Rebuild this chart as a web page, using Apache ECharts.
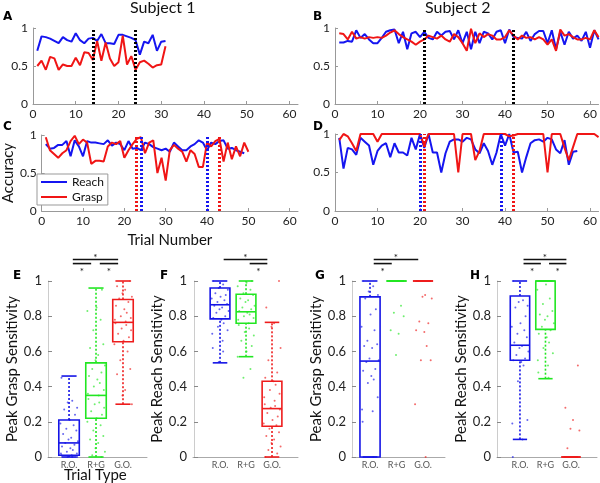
<!DOCTYPE html>
<html><head><meta charset="utf-8">
<script src="https://cdn.jsdelivr.net/npm/echarts@6/dist/echarts.min.js"></script>
<style>html,body{margin:0;padding:0;background:#fff}#c{width:600px;height:483px}</style>
</head><body><div id="c"></div>
<script>
// ---------- DATA ----------
const s1DistReach = [0.70,0.89,0.88,0.86,0.83,0.80,0.88,0.84,0.82,0.93,0.84,0.80,0.86,0.87,0.83,0.92,0.80,0.80,0.79,0.91,0.91,0.89,0.87,0.84,0.65,0.82,0.80,0.91,0.70,0.82,0.83];
const s1DistGrasp = [0.50,0.57,0.45,0.62,0.60,0.45,0.52,0.50,0.50,0.61,0.51,0.68,0.67,0.58,0.83,0.57,0.81,0.60,0.50,0.55,0.90,0.52,0.63,0.45,0.55,0.57,0.53,0.48,0.51,0.52,0.76];
const s2DistReach = [0.81,0.81,0.83,0.82,0.97,0.87,0.92,0.85,0.80,0.80,0.87,0.95,0.97,0.98,0.80,0.95,0.72,0.93,0.95,0.88,0.95,0.87,0.85,0.95,0.90,0.95,0.96,0.85,0.97,0.80,0.95,0.72,0.95,0.80,0.95,0.93,0.85,0.95,0.97,0.80,0.98,0.88,0.87,0.86,0.95,0.83,0.92,0.96,0.96,0.80,0.97,0.72,0.95,0.78,0.95,0.86,0.90,0.83,0.95,0.74,0.97,0.85];
const s2DistGrasp = [0.93,0.92,0.85,0.95,0.86,0.88,0.86,0.88,0.87,0.88,0.87,0.90,0.94,0.97,0.92,0.88,0.85,0.82,0.78,0.82,0.85,0.90,0.88,0.86,0.90,0.85,0.82,0.92,0.88,0.80,0.70,0.99,0.80,0.93,0.88,0.92,0.90,0.85,0.85,0.88,0.97,0.90,0.85,0.90,0.87,0.88,0.85,0.88,0.85,0.78,0.85,0.70,0.98,0.90,0.92,0.88,0.85,0.85,0.87,0.85,0.97,0.88];
const s1TimeReach = [0.88,0.82,0.83,0.87,0.87,0.92,0.72,0.93,0.85,0.72,0.92,0.90,0.90,0.89,0.88,0.93,0.86,0.90,0.88,0.80,0.92,0.82,0.83,0.80,0.90,0.88,0.84,0.82,0.80,0.82,0.78,0.90,0.85,0.80,0.80,0.85,0.88,0.93,0.90,0.80,0.90,0.88,0.92,0.93,0.82,0.83,0.80,0.78,0.76];
const s1TimeGrasp = [0.97,0.80,0.75,0.70,0.76,0.80,0.92,0.99,0.88,0.94,0.90,0.62,0.66,0.66,0.65,0.85,0.90,0.88,0.92,0.70,0.80,0.88,0.95,0.97,0.76,0.90,0.93,0.50,0.70,0.40,0.80,0.87,0.82,0.78,0.65,0.80,0.75,0.58,0.58,0.90,0.85,0.92,0.95,0.65,0.90,0.68,0.85,0.72,0.90,0.78];
const s2TimeReach = [0.95,0.55,0.82,0.80,0.73,0.95,0.90,0.85,0.60,0.78,0.85,0.88,0.70,0.88,0.76,0.76,0.72,0.95,0.80,1.00,0.82,1.00,0.76,0.76,0.50,0.75,0.90,0.93,0.93,0.90,0.95,0.93,0.80,0.75,0.88,0.78,0.60,0.76,1.00,0.85,1.00,0.76,0.77,0.50,0.70,0.88,0.92,0.93,0.90,0.95,0.93,0.80,0.75,0.92,0.60,0.77,0.78];
const s2TimeGrasp = [0.92,1.00,0.97,0.88,0.78,1.00,1.00,1.00,1.00,0.90,1.00,1.00,1.00,1.00,1.00,1.00,1.00,1.00,1.00,1.00,0.85,1.00,1.00,1.00,1.00,1.00,1.00,1.00,0.50,1.00,1.00,1.00,0.66,0.78,1.00,1.00,1.00,1.00,1.00,1.00,0.97,0.98,1.00,1.00,1.00,1.00,1.00,1.00,1.00,0.50,1.00,1.00,1.00,0.82,0.66,0.83,1.00,1.00,1.00,1.00,1.00,0.96];
const markA = [14, 24];
const markB = [21, 42];
const markCReach = [24, 40], markCGrasp = [23, 43];
const markDReach = [20, 39], markDGrasp = [21, 42];
const xTicksTrial = [0, 10, 20, 30, 40, 50, 60];

const boxCats = ['R.O.', 'R+G', 'G.O.'];
// [lower whisker, Q1, median, Q3, upper whisker]
const boxE = [[0,0.01,0.08,0.21,0.46],[0,0.22,0.35,0.535,0.96],[0.30,0.655,0.765,0.895,1.0]];
const boxF = [[0.535,0.785,0.865,0.96,1.0],[0.57,0.76,0.825,0.925,1.0],[0,0.175,0.275,0.43,0.765]];
const boxG = [[0,0,0.545,0.91,1.0],[1,1,1,1,1],[1,1,1,1,1]];
const boxH = [[0.10,0.55,0.635,0.915,1.0],[0.445,0.725,1.0,1.0,1.0],[0,0,0,0,0]];
const ptsE = [
 [0.45,0.32,0.31,0.28,0.27,0.24,0.21,0.19,0.18,0.16,0.15,0.13,0.11,0.10,0.09,0.08,0.07,0.06,0.05,0.04,0.03,0.02,0.02,0.01,0.01,0,0,0],
 [0.95,0.85,0.83,0.78,0.72,0.64,0.62,0.58,0.55,0.52,0.50,0.48,0.46,0.44,0.42,0.40,0.38,0.36,0.35,0.33,0.31,0.30,0.28,0.26,0.24,0.22,0.20,0.18,0.15,0.12,0.10,0.08,0.05,0.03,0.01,0],
 [1.0,0.97,0.95,0.93,0.91,0.90,0.88,0.86,0.84,0.82,0.80,0.79,0.78,0.77,0.76,0.75,0.73,0.72,0.70,0.68,0.66,0.64,0.60,0.55,0.50,0.47,0.38,0.35,0.30]];
const ptsF = [
 [1.0,0.98,0.96,0.95,0.93,0.92,0.91,0.90,0.89,0.88,0.87,0.86,0.85,0.84,0.83,0.82,0.80,0.79,0.78,0.76,0.74,0.72,0.70,0.66,0.62,0.60,0.54],
 [1.0,0.99,0.97,0.95,0.93,0.92,0.90,0.89,0.88,0.86,0.85,0.84,0.83,0.82,0.81,0.80,0.79,0.78,0.76,0.75,0.73,0.71,0.69,0.66,0.63,0.60,0.57,0.50,0.45],
 [1.0,0.85,0.76,0.74,0.62,0.55,0.48,0.45,0.43,0.41,0.38,0.36,0.34,0.32,0.30,0.29,0.28,0.27,0.25,0.23,0.21,0.19,0.18,0.16,0.14,0.12,0.10,0.08,0.06,0.04,0.02,0.0]];
const ptsG = [
 [1.0,0.97,0.94,0.92,0.90,0.84,0.81,0.74,0.72,0.66,0.64,0.63,0.62,0.56,0.55,0.54,0.50,0.49,0.46,0.44,0.42,0.34,0.27,0.26,0.20,0.0],
 [1.0,1.0,1.0,0.86,0.82,0.80,0.72,0.70,0.58],
 [1.0,1.0,0.92,0.91,0.90,0.77,0.76,0.72,0.71,0.63,0.55,0.55,0.30,0.0]];
const ptsH = [
 [1.0,0.89,0.88,0.86,0.85,0.80,0.76,0.74,0.72,0.70,0.68,0.65,0.63,0.62,0.60,0.58,0.56,0.55,0.54,0.52,0.43,0.21,0.19,0.10,0.0],
 [1.0,0.98,0.95,0.90,0.87,0.83,0.81,0.80,0.78,0.76,0.74,0.72,0.70,0.68,0.65,0.62,0.59,0.55,0.52,0.48,0.45],
 [0.52,0.28,0.21,0.16,0.15,0.05,0.0,0.0]];
// significance comparisons: [from, to, level]
const sigE = [[1,3,0],[1,2,1],[2,3,1]];
const sigF = [[1,3,0],[2,3,1]];
const sigG = [[1,3,0],[1,2,1]];
const sigH = [[1,3,0],[1,2,1],[2,3,1]];

// ---------- STYLE ----------
const BLUE = '#1515f0', RED = '#f01515';
const BOX_COLORS = ['#1414e6', '#22e622', '#ee1c1c'];
const FONT = 'Lato';
const JIT = [-0.28,0.12,-0.05,0.3,-0.18,0.22,0.02,-0.32,0.17,-0.1,0.27,-0.22,0.08,-0.02,0.33,-0.14,0.2,-0.26,0.05,0.14,-0.08,0.29,-0.3,0.1];

const chart = echarts.init(document.getElementById('c'), null, {renderer: 'canvas'});

const lineGrids = [
  {left: 33, top: 28, width: 265, height: 76},
  {left: 335, top: 28, width: 264, height: 76},
  {left: 33, top: 135, width: 265, height: 76},
  {left: 335, top: 134, width: 264, height: 77}
];
const boxGrids = [
  {left: 48, top: 281, width: 99, height: 176, min: 0.22, max: 3.89, name: 'Peak Grasp Sensitivity', gap: 27},
  {left: 193, top: 281, width: 105, height: 176, min: -0.04, max: 4.0, name: 'Peak Reach Sensitivity', gap: 20},
  {left: 352, top: 281, width: 93, height: 176, min: 0.32, max: 3.83, name: 'Peak Grasp Sensitivity', gap: 28},
  {left: 497, top: 281, width: 100, height: 176, min: 0.1, max: 4.02, name: 'Peak Reach Sensitivity', gap: 21}
];

const grids = [], xAxes = [], yAxes = [], series = [];
lineGrids.forEach((g, i) => {
  grids.push({left: g.left, top: g.top, width: g.width, height: g.height});
  xAxes.push({
    gridIndex: i, type: 'value', min: 0, max: 62, interval: 10,
    axisLine: {lineStyle: {color: '#999', width: 1}},
    axisTick: {inside: true, length: 3, lineStyle: {color: '#999'}},
    splitLine: {show: false},
    axisLabel: {fontFamily: FONT, fontSize: 12, color: '#222', margin: 4, showMaxLabel: false,
      formatter: v => xTicksTrial.includes(v) ? String(v) : ''},
    name: i === 2 ? 'Trial Number' : '', nameLocation: 'middle', nameGap: 22,
    nameTextStyle: {fontFamily: FONT, fontSize: 15, color: '#111'}
  });
  yAxes.push({
    gridIndex: i, type: 'value', min: 0, max: 1, interval: 0.5,
    axisLine: {show: true, lineStyle: {color: '#999', width: 1}},
    axisTick: {show: true, inside: true, length: 3, lineStyle: {color: '#999'}},
    splitLine: {show: false},
    axisLabel: {fontFamily: FONT, fontSize: 12, color: '#222', margin: 5, formatter: v => String(v)},
    name: i === 2 ? 'Accuracy' : '', nameLocation: 'middle', nameGap: 17,
    nameTextStyle: {fontFamily: FONT, fontSize: 15, color: '#111'}
  });
});
boxGrids.forEach((g, k) => {
  const i = k + 4;
  grids.push({left: g.left, top: g.top, width: g.width, height: g.height});
  xAxes.push({
    gridIndex: i, type: 'value', min: g.min, max: g.max,
    axisLine: {lineStyle: {color: '#aaa', width: 1}},
    axisTick: {show: false}, splitLine: {show: false},
    axisLabel: {customValues: [1, 2, 3], fontFamily: FONT, fontSize: 9, color: '#555', margin: 4,
      formatter: v => boxCats[Math.round(v) - 1] || ''}
  });
  yAxes.push({
    gridIndex: i, type: 'value', min: 0, max: 1, interval: 0.2,
    axisLine: {show: true, lineStyle: {color: '#ccc', width: 1}},
    axisTick: {show: true, inside: true, length: 4, lineStyle: {color: '#888'}},
    splitLine: {show: false},
    axisLabel: {fontFamily: FONT, fontSize: 13, color: '#222', margin: 6,
      formatter: v => String(+v.toFixed(1))},
    name: g.name, nameLocation: 'middle', nameGap: g.gap,
    nameTextStyle: {fontFamily: FONT, fontSize: 15, color: '#111'}
  });
});

function lineSeries(name, gi, vals, color, marks, markColor) {
  const s = {
    name, type: 'line', xAxisIndex: gi, yAxisIndex: gi, symbol: 'none', silent: true,
    data: vals.map((v, j) => [j + 1, v]),
    lineStyle: {color, width: 2}, itemStyle: {color}, z: 2
  };
  if (marks) {
    s.markLine = {
      symbol: 'none', silent: true, label: {show: false}, z: 5,
      lineStyle: {type: [2, 2], width: 3, color: markColor},
      emphasis: {disabled: true},
      data: marks.map(x => ({xAxis: x}))
    };
  }
  return s;
}
series.push(lineSeries('Reach', 0, s1DistReach, BLUE, markA, '#000'));
series.push(lineSeries('Grasp', 0, s1DistGrasp, RED));
series.push(lineSeries('Reach', 1, s2DistReach, BLUE, markB, '#000'));
series.push(lineSeries('Grasp', 1, s2DistGrasp, RED));
series.push(lineSeries('Reach', 2, s1TimeReach, BLUE, markCReach, BLUE));
series.push(lineSeries('Grasp', 2, s1TimeGrasp, RED, markCGrasp, RED));
series.push(lineSeries('Reach', 3, s2TimeReach, BLUE, markDReach, BLUE));
series.push(lineSeries('Grasp', 3, s2TimeGrasp, RED, markDGrasp, RED));

function renderBox(params, api) {
  const x = api.value(0);
  const c = BOX_COLORS[Math.round(x) - 1];
  const unit = api.size([1, 0])[0];
  const hw = unit * 0.38, cw = unit * 0.28;
  const cx = api.coord([x, 0])[0];
  const y = k => api.coord([x, api.value(k)])[1];
  const yLo = y(1), yQ1 = y(2), yMd = y(3), yQ3 = y(4), yHi = y(5);
  const solid = {stroke: c, lineWidth: 1.6, fill: null};
  const dash = {stroke: c, lineWidth: 1.6, lineDash: [2, 2], fill: null};
  return {type: 'group', children: [
    {type: 'line', shape: {x1: cx, y1: yQ3, x2: cx, y2: yHi}, style: dash},
    {type: 'line', shape: {x1: cx, y1: yLo, x2: cx, y2: yQ1}, style: dash},
    {type: 'line', shape: {x1: cx - cw, y1: yHi, x2: cx + cw, y2: yHi}, style: solid},
    {type: 'line', shape: {x1: cx - cw, y1: yLo, x2: cx + cw, y2: yLo}, style: solid},
    {type: 'rect', shape: {x: cx - hw, y: yQ3, width: 2 * hw, height: yQ1 - yQ3}, style: solid},
    {type: 'line', shape: {x1: cx - hw, y1: yMd, x2: cx + hw, y2: yMd}, style: solid}
  ]};
}
[boxE, boxF, boxG, boxH].forEach((stats, k) => {
  const gi = k + 4;
  series.push({
    type: 'custom', xAxisIndex: gi, yAxisIndex: gi, silent: true, z: 3,
    renderItem: renderBox, encode: {x: 0, y: [1, 2, 3, 4, 5]},
    data: stats.map((s, i) => [i + 1].concat(s))
  });
});
[ptsE, ptsF, ptsG, ptsH].forEach((groups, k) => {
  const gi = k + 4;
  groups.forEach((vals, ci) => {
    series.push({
      type: 'scatter', xAxisIndex: gi, yAxisIndex: gi, silent: true, z: 4,
      symbolSize: 2, itemStyle: {color: BOX_COLORS[ci], opacity: 0.65},
      data: vals.map((v, j) => [ci + 1 + JIT[(j + ci * 5) % JIT.length], v])
    });
  });
});

const graphic = [
  {type: 'text', left: 130, top: 0, style: {text: 'Subject 1', font: '16px Lato', fill: '#111'}},
  {type: 'text', left: 425, top: 0, style: {text: 'Subject 2', font: '16px Lato', fill: '#111'}},
  {type: 'text', left: 3, top: 11, style: {text: 'A', font: 'bold 12px "DejaVu Sans"', fill: '#000'}},
  {type: 'text', left: 313, top: 11, style: {text: 'B', font: 'bold 12px "DejaVu Sans"', fill: '#000'}},
  {type: 'text', left: 3, top: 121, style: {text: 'C', font: 'bold 12px "DejaVu Sans"', fill: '#000'}},
  {type: 'text', left: 313, top: 121, style: {text: 'D', font: 'bold 12px "DejaVu Sans"', fill: '#000'}},
  {type: 'text', left: 13, top: 270, style: {text: 'E', font: 'bold 12px "DejaVu Sans"', fill: '#000'}},
  {type: 'text', left: 160, top: 270, style: {text: 'F', font: 'bold 12px "DejaVu Sans"', fill: '#000'}},
  {type: 'text', left: 315, top: 270, style: {text: 'G', font: 'bold 12px "DejaVu Sans"', fill: '#000'}},
  {type: 'text', left: 470, top: 270, style: {text: 'H', font: 'bold 12px "DejaVu Sans"', fill: '#000'}},
  {type: 'text', left: 64, top: 468, style: {text: 'Trial Type', font: '15px Lato', fill: '#111'}}
];

chart.setOption({
  animation: false,
  backgroundColor: '#fff',
  grid: grids, xAxis: xAxes, yAxis: yAxes, series,
  legend: {
    data: ['Reach', 'Grasp'], orient: 'vertical', left: 37, top: 174,
    itemWidth: 26, itemHeight: 2, itemGap: 3, icon: 'rect', selectedMode: false,
    backgroundColor: '#fff', borderColor: '#999', borderWidth: 1, borderRadius: 0,
    padding: [2, 4, 2, 4],
    textStyle: {fontFamily: FONT, fontSize: 12, color: '#111'}
  },
  graphic
});

// significance bars, positioned through the axes
const sigEls = [];
[sigE, sigF, sigG, sigH].forEach((list, k) => {
  const gi = k + 4;
  list.forEach(([a, b, lvl]) => {
    const yv = lvl === 0 ? 1.122 : 1.099;
    const p1 = chart.convertToPixel({gridIndex: gi}, [a + 0.14, yv]);
    const p2 = chart.convertToPixel({gridIndex: gi}, [b - 0.18, yv]);
    sigEls.push({type: 'line', shape: {x1: p1[0], y1: p1[1], x2: p2[0], y2: p2[1]},
      style: {stroke: '#111', lineWidth: 1.6}});
    const mx = (p1[0] + p2[0]) / 2;
    sigEls.push({type: 'text', x: mx, y: lvl === 0 ? p1[1] - 2 : p1[1] + 8,
      style: {text: '*', font: '10px Lato', fill: '#111', align: 'center', verticalAlign: 'middle'}});
  });
});
chart.setOption({graphic: graphic.concat(sigEls)});
</script></body></html>
